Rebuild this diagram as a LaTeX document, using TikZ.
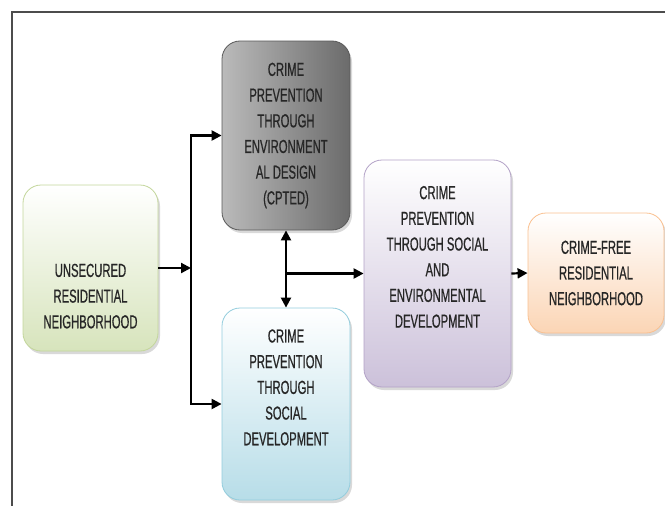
\documentclass[tikz,border=0pt]{standalone}
\usepackage{fontspec}
\newfontfamily\boxfont[FakeStretch=0.6,FakeBold=0.6]{Liberation Sans}
\usetikzlibrary{arrows.meta,shadows}
\definecolor{grnline}{HTML}{C3D69B}
\definecolor{grnfill}{HTML}{D7E4BC}
\definecolor{bluline}{HTML}{93CDDD}
\definecolor{blufill}{HTML}{B7DDE8}
\definecolor{purline}{HTML}{B3A2C7}
\definecolor{purfill}{HTML}{CCC1DA}
\definecolor{orgline}{HTML}{FAC090}
\definecolor{orgfill}{HTML}{FBD5B5}
\tikzset{
  bigtip/.tip={Triangle[length=10pt,width=10pt]},
  box/.style={rounded corners=18pt,draw,line width=0.8pt,align=center,
    font=\boxfont\fontsize{18.8}{25.7}\selectfont,text=black!85,
    drop shadow={shadow xshift=2pt,shadow yshift=-3pt,opacity=.3}}
}
\begin{document}
\begin{tikzpicture}[x=1pt,y=-1pt]
      \useasboundingbox (0,0) rectangle (665,506);
      \draw[gray!60!black,line width=1.2pt] (12,12) rectangle (690,530);
      \draw
        (90.5,268) node[box,draw=grnline,top color=white,bottom color=grnfill,
          minimum width=135pt,minimum height=166pt] (unsec)
          {\strut\\ \strut\\ UNSECURED\\RESIDENTIAL\\NEIGHBORHOOD}
        (286,135.5) node[box,draw=black!65,left color=black!27,middle color=black!16,
          right color=black!58,minimum width=128pt,minimum height=189pt] (cpted)
          {CRIME\\PREVENTION\\THROUGH\\ENVIRONMENT\\AL DESIGN\\(CPTED)}
        (286,404) node[box,draw=bluline,top color=white,bottom color=blufill,
          minimum width=128pt,minimum height=192pt] (social)
          {CRIME\\PREVENTION\\THROUGH\\SOCIAL\\DEVELOPMENT\\ \strut}
        (437.5,273.5) node[box,draw=purline,top color=white,bottom color=purfill,
          minimum width=147pt,minimum height=227pt] (both)
          {CRIME\\PREVENTION\\THROUGH SOCIAL\\AND\\ENVIRONMENTAL\\DEVELOPMENT\\ \strut}
        (596,273) node[box,draw=orgline,top color=white,bottom color=orgfill,
          minimum width=136pt,minimum height=120pt] (free)
          {CRIME-FREE\\RESIDENTIAL\\NEIGHBORHOOD};
      \coordinate (bus) at (191,265);
      \begin{scope}[-bigtip,line width=2.2pt]
        \draw (unsec.east) to (unsec.east -| bus);
        \draw[bigtip-bigtip] (cpted.west) -| (bus) |- (social.west);
        \draw[bigtip-bigtip] (cpted.south) to (social.north);
        \draw (cpted.south |- both.west) to (both.west);
        \draw (both.east) to (free.west);
      \end{scope}
    \end{tikzpicture}
\end{document}
